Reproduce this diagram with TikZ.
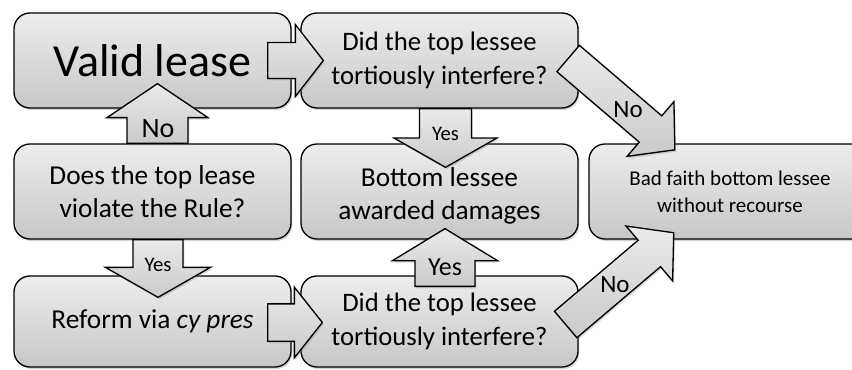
\documentclass[tikz,border=0pt]{standalone}
\usepackage{fontspec}
\setmainfont{Carlito}
\usetikzlibrary{calc,shadows}

\begin{document}
\begin{tikzpicture}[x=0.75pt,y=-0.75pt,
    box/.style={draw,line width=1pt,rounded corners=12pt,top color=gray!14,bottom color=gray!44,
      minimum width=207.75pt,minimum height=71.25pt,align=center,inner sep=2pt,
      drop shadow={shadow xshift=1pt,shadow yshift=-1.5pt,fill=black!50,opacity=0.35}},
    flow/.style n args={3}{draw,line width=1pt,top color=gray!16,bottom color=gray!42,
      drop shadow={shadow xshift=1pt,shadow yshift=-1.5pt,fill=black!50,opacity=0.3},
      to path={let \p1=(\tikztostart),\p2=(\tikztotarget),
        \n1={atan2(\y2-\y1,\x2-\x1)},\n2={veclen(\x2-\x1,\y2-\y1)} in
        ([shift={(\p1)},rotate=\n1]0pt,#1) -- ([shift={(\p1)},rotate=\n1]\n2-#3,#1)
        -- ([shift={(\p1)},rotate=\n1]\n2-#3,#2) -- ([shift={(\p1)},rotate=\n1]\n2,0pt)
        -- ([shift={(\p1)},rotate=\n1]\n2-#3,-#2) -- ([shift={(\p1)},rotate=\n1]\n2-#3,-#1)
        -- ([shift={(\p1)},rotate=\n1]0pt,-#1) -- cycle}},
    mid/.style={font=\fontsize{20.5}{25}\selectfont},
    tag/.style={font=\fontsize{#1}{#1}\selectfont,inner sep=0pt}]
  \useasboundingbox (0,0) rectangle (852,370);

  \node[box,font=\fontsize{34.5}{40}\selectfont] (valid) at (152.5,60.5) {Valid lease};
  \node[box,mid,font=\fontsize{20}{25}\selectfont] (tq1) at (439.5,60.5) {Did the top lessee\\tortiously interfere?};
  \node[box,mid] (doesq) at (152.5,191.5) {Does the top lease\\violate the Rule?};
  \node[box,mid] (damages) at (439.5,191.5) {\raisebox{-3.5pt}[\height][\depth]{\begin{tabular}{@{}c@{}}Bottom lessee\\awarded damages\end{tabular}}};
  \node[box,minimum width=211.5pt,font=\fontsize{15.75}{20}\selectfont] (badfaith) at (730,191.5) {Bad faith bottom lessee\\without recourse};
  \node[box,mid,minimum height=68.25pt] (reform) at (152.5,321.5) {Reform via \textit{cy pres}};
  \node[box,mid,minimum height=68.25pt,font=\fontsize{20}{25}\selectfont] (tq2) at (439.5,321.5) {Did the top lessee\\tortiously interfere?};

  \draw[flow={13.5pt}{27pt}{21pt}] ($(valid.east)+(-24,0)$) to ($(tq1.west)+(23,0)$);
  \draw[flow={14pt}{26.5pt}{21pt}] ($(reform.east)+(-24,1)$) to ($(tq2.west)+(22,1)$);
  \draw[flow={22.9pt}{37.9pt}{25.5pt}] ($(doesq.north)+(5,0)$) to ($(valid.south)+(5,-25)$);
  \draw[flow={19.5pt}{38.6pt}{22pt}] ($(tq1.south)+(6,0)$) to ($(damages.north)+(6,24)$);
  \draw[flow={18.75pt}{39.4pt}{22.5pt}] ($(doesq.south)+(5.5,0)$) to ($(reform.north)+(5.5,22)$);
  \draw[flow={22.5pt}{39.4pt}{24pt}] ($(tq2.north)+(5.5,11)$) to ($(damages.south)+(5.5,-11)$);
  \draw[flow={13pt}{27pt}{24pt}] ($(tq1.east)+(-10.5,-2)$) to ($(badfaith.north west)+(86.5,6.5)$);
  \draw[flow={13pt}{27pt}{24pt}] ($(tq2.east)+(-13,3)$) to ($(badfaith.south west)+(85.5,-7)$);

  \node[tag=21] (no1) at ($(doesq.north)+(5.5,-15)$) {No};
  \node[tag=15.5] (yes1) at ($(tq1.south)+(6,25)$) {Yes};
  \node[tag=15.5] (yes2) at ($(doesq.south)+(5.5,25)$) {Yes};
  \node[tag=19.5] (yes3) at ($(tq2.north)+(5.5,-8)$) {Yes};
  \node[tag=18.75] (no2) at (628,110) {No};
  \node[tag=18.75] (no3) at (615,285) {No};
\end{tikzpicture}
\end{document}
